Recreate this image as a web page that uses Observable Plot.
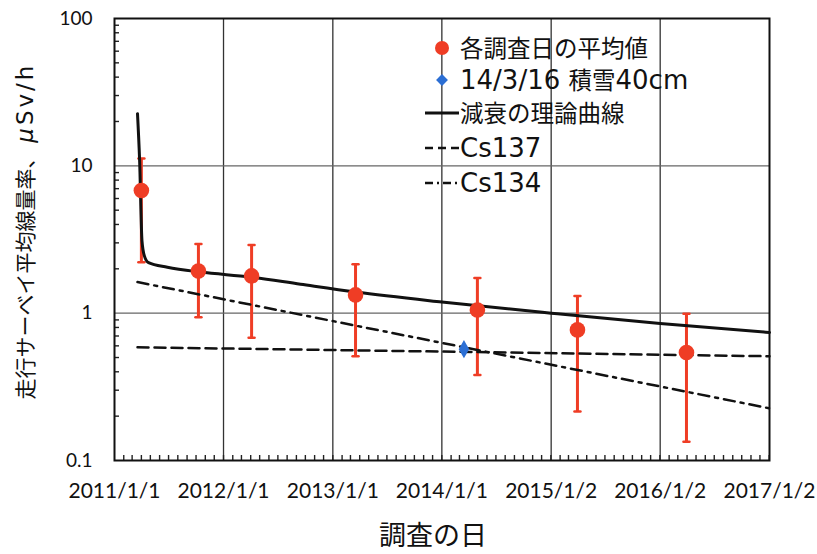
<!DOCTYPE html>
<html><head><meta charset="utf-8">
<script src="https://cdn.jsdelivr.net/npm/d3@7"></script>
<script src="https://cdn.jsdelivr.net/npm/@observablehq/plot@0.6"></script>
<style>
body{margin:0;background:#fff}
svg{display:block;background:#fff}
g[aria-label="x-axis tick label"] text{font-family:Lato,"Liberation Sans",sans-serif;font-size:21px;fill:#111}
g[aria-label="y-axis tick label"] text{font-family:Lato,"Liberation Sans",sans-serif;font-size:19px;fill:#111}
</style>
</head><body><div id="chart"></div>
<script>
// survey means with error ranges
const surveyDates = ["2011-04-01","2011-10-09","2012-04-04","2013-03-18","2014-04-30","2015-03-31","2016-03-30"];
const surveyMean  = [6.8, 1.93, 1.79, 1.33, 1.05, 0.77, 0.54];
const surveyHigh  = [11.2, 2.95, 2.9, 2.15, 1.73, 1.31, 0.99];
const surveyLow   = [2.22, 0.94, 0.68, 0.51, 0.38, 0.215, 0.134];
// snow day
const snowDates  = ["2014-03-16"];
const snowValues = [0.57];
// theoretical decay curve
const curveDates  = ["2011-03-19","2011-03-26","2011-04-03","2011-04-11","2011-04-25","2011-06-27","2011-10-16","2012-03-31","2012-09-15","2013-03-18","2014-01-01","2015-01-02","2016-01-02","2017-01-02"];
const curveValues = [22.6, 11.0, 3.1, 2.45, 2.2, 2.05, 1.90, 1.76, 1.57, 1.39, 1.19, 1.0, 0.85, 0.74];
const cs137Dates  = ["2011-03-19","2017-01-02"];
const cs137Values = [0.587, 0.51];
const cs134Dates  = ["2011-03-19","2017-01-02"];
const cs134Values = [1.626, 0.226];
// axes
const xTickDates  = ["2011-01-01","2012-01-01","2013-01-01","2014-01-01","2015-01-02","2016-01-02","2017-01-02"];
const xTickLabels = ["2011/1/1","2012/1/1","2013/1/1","2014/1/1","2015/1/2","2016/1/2","2017/1/2"];
const yTicks      = [0.1, 1, 10, 100];
const yTickLabels = ["0.1","1","10","100"];
const yGrid       = [1, 10];
const legendLabels = ["各調査日の平均値","14/3/16 積雪40cm","減衰の理論曲線","Cs137","Cs134"];
const yLabelMain = "走行サーベイ平均線量率、";
const yLabelUnitMu = "μ";
const yLabelUnit = "Sv/h";
const xLabel = "調査の日";

const red = "#ef3d25", blue = "#2c6fd4";
const P = s => new Date(s + "T00:00:00Z");
const survey = surveyDates.map((d,i)=>({date:P(d), mean:surveyMean[i], hi:surveyHigh[i], lo:surveyLow[i]}));
const snow = snowDates.map((d,i)=>({date:P(d), v:snowValues[i]}));
const curve = curveDates.map((d,i)=>({date:P(d), v:curveValues[i]}));
const cs137 = cs137Dates.map((d,i)=>({date:P(d), v:cs137Values[i]}));
const cs134 = cs134Dates.map((d,i)=>({date:P(d), v:cs134Values[i]}));
const xTicks = xTickDates.map(P);
const xLabMap = new Map(xTicks.map((d,i)=>[+d, xTickLabels[i]]));
const yLabMap = new Map(yTicks.map((d,i)=>[d, yTickLabels[i]]));
const xDomain = [xTicks[0], xTicks[xTicks.length-1]];
const months = d3.utcMonth.range(xDomain[0], xDomain[1]).slice(1);
const minorY = [];
for (const base of [0.1,1,10]) for (let k=2;k<=9;k++) minorY.push(+(base*k).toPrecision(3));
const lineShape = {draw(ctx, l){ ctx.moveTo(0,0); ctx.lineTo(0,-l); }};

const chart = Plot.plot({
  width: 817, height: 554,
  marginLeft: 114, marginRight: 48, marginTop: 18, marginBottom: 94,
  x: {type:"utc", domain: xDomain},
  y: {type:"log", domain:[0.1,100]},
  marks: [
    Plot.ruleX(xTicks.slice(1,-1), {stroke:"#333", strokeWidth:1.3}),
    Plot.ruleY(yGrid, {stroke:"#666", strokeWidth:1.3}),
    Plot.axisY(minorY, {tickSize:5, dx:5, tickFormat:()=>"", strokeWidth:1.4, stroke:"#222", label:null}),
    Plot.axisX(months, {tickSize:5, dy:-5, tickFormat:()=>"", strokeWidth:1.4, stroke:"#222", label:null}),
    Plot.axisX(xTicks, {tickSize:0, tickPadding:23, tickFormat:d=>xLabMap.get(+d), label:null}),
    Plot.axisY(yTicks, {tickSize:0, tickPadding:22, tickFormat:d=>yLabMap.get(d), label:null}),
    Plot.ruleX(survey, {x:"date", y1:"lo", y2:"hi", stroke:red, strokeWidth:3}),
    Plot.vector(survey, {x:"date", y:"hi", rotate:90, length:6, anchor:"middle", shape:lineShape, stroke:red, strokeWidth:2.5}),
    Plot.vector(survey, {x:"date", y:"lo", rotate:90, length:6, anchor:"middle", shape:lineShape, stroke:red, strokeWidth:2.5}),
    Plot.line(cs137, {x:"date", y:"v", stroke:"#111", strokeWidth:2.5, strokeDasharray:"11,6"}),
    Plot.line(cs134, {x:"date", y:"v", stroke:"#111", strokeWidth:2.5, strokeDasharray:"11,6,3,6"}),
    Plot.line(curve, {x:"date", y:"v", stroke:"#111", strokeWidth:3, curve:"monotone-x"}),
    Plot.dot(survey, {x:"date", y:"mean", r:7.8, fill:red}),
    Plot.dot(snow, {x:"date", y:"v", r:5.5, symbol:"diamond", fill:blue}),
    Plot.frame({stroke:"#111", strokeWidth:2})
  ]
});
document.getElementById("chart").append(chart);

const svg = d3.select(chart);
// legend
const lg = svg.append("g").attr("fill","#111").attr("text-anchor","start");
const rows = [48,80,113,148,183];
lg.append("circle").attr("cx",442).attr("cy",rows[0]).attr("r",7).attr("fill",red);
lg.append("path").attr("d",d3.symbol(d3.symbolDiamond2, 90)()).attr("transform",`translate(442,${rows[1]})`).attr("fill",blue);
lg.append("line").attr("x1",425).attr("x2",459).attr("y1",rows[2]).attr("y2",rows[2]).attr("stroke","#111").attr("stroke-width",3);
lg.append("line").attr("x1",425).attr("x2",459).attr("y1",rows[3]).attr("y2",rows[3]).attr("stroke","#111").attr("stroke-width",2.5).attr("stroke-dasharray","8,5");
lg.append("line").attr("x1",425).attr("x2",459).attr("y1",rows[4]).attr("y2",rows[4]).attr("stroke","#111").attr("stroke-width",2.5).attr("stroke-dasharray","8,4,2,4");
const cjk = /[\u3000-\u9fff\uff00-\uffef]/;
legendLabels.forEach((t,i)=>{
  const tx = lg.append("text").attr("x",460).attr("y",rows[i] + 9).attr("font-size",25);
  const runs = [];
  for (const ch of t) {
    const isC = cjk.test(ch);
    if (runs.length && runs[runs.length-1].c === isC) runs[runs.length-1].s += ch;
    else runs.push({c:isC, s:ch});
  }
  runs.forEach(r => {
    tx.append("tspan")
      .attr("font-family", r.c ? "'Noto Sans CJK JP',sans-serif" : "'DejaVu Sans',sans-serif")
      .attr("font-size", r.c ? 23.5 : 26)
      .text(r.s);
  });
});
// y label
const yl = svg.append("text").attr("transform","translate(25,231) rotate(-90)").attr("text-anchor","middle").attr("dy","0.36em").attr("font-size",21).attr("fill","#111");
yl.append("tspan").attr("font-family","'Noto Sans CJK JP',sans-serif").attr("font-size",21).text(yLabelMain + " ");
yl.append("tspan").attr("font-family","'DejaVu Sans',sans-serif").attr("font-size",23).attr("font-style","italic").attr("letter-spacing",3).text(yLabelUnitMu);
yl.append("tspan").attr("font-family","'DejaVu Sans',sans-serif").attr("font-size",23).attr("letter-spacing",3).text(yLabelUnit);
// x label
svg.append("text").attr("x",433).attr("y",535).attr("text-anchor","middle").attr("dy","0.36em").attr("font-family","'Noto Sans CJK JP',sans-serif").attr("font-size",27).attr("fill","#111").text(xLabel);
</script>
</body></html>
